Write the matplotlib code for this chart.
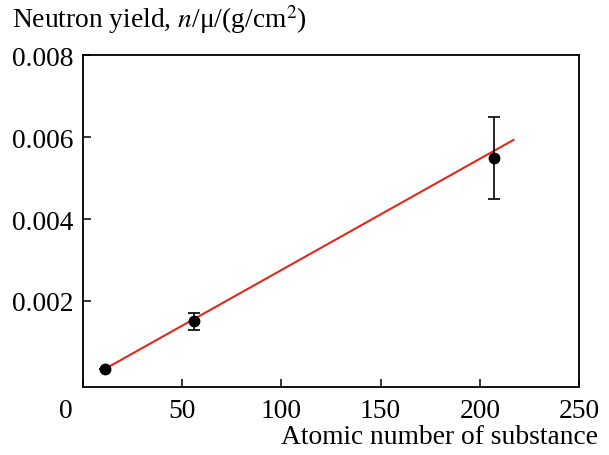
import matplotlib
matplotlib.use("Agg")
import matplotlib.pyplot as plt
import matplotlib.transforms as mtransforms

# measured points (mass/atomic number vs neutron yield)
z_values = [11, 56, 207]
yield_values = [0.00034, 0.0015, 0.0055]
yield_err = [0.0, 0.0002, 0.001]

# linear fit drawn as a red line
fit_x = [11, 217]
fit_y = [0.00034, 0.00593]

x_ticks = [0, 50, 100, 150, 200, 250]
y_ticks = [0.002, 0.004, 0.006, 0.008]

plt.rcParams['font.family'] = ['Liberation Serif', 'DejaVu Serif']
plt.rcParams['mathtext.fontset'] = 'stix'
plt.rcParams['font.size'] = 19.8

fig = plt.figure(figsize=(6.09, 4.56), dpi=100)
ax = fig.add_axes([0.1363, 0.149, 0.8144, 0.728])

ax.plot(fit_x, fit_y, color='#e0291c', lw=1.5, zorder=2)
ax.errorbar(z_values, yield_values, yerr=yield_err, fmt='o', color='black',
            ms=7.5, ecolor='black', elinewidth=1.2, capsize=4, capthick=1.2,
            zorder=3)

ax.set_xlim(0, 250)
ax.set_ylim(-0.0001, 0.008)
ax.set_xticks(x_ticks)
ax.set_yticks(y_ticks)
ax.set_xticklabels([str(t) for t in x_ticks])
ax.set_yticklabels([f"{t:.3f}" for t in y_ticks])

ax.tick_params(direction='in', length=6, width=1.1, top=False, right=False)
ax.tick_params(axis='x', pad=8)
ax.tick_params(axis='y', pad=7)
for sp in ax.spines.values():
    sp.set_linewidth(1.3)

# the "0" label sits a bit left of the axis origin in the original
offset = mtransforms.ScaledTranslation(-17 / 100, 0, fig.dpi_scale_trans)
lbl0 = ax.get_xticklabels()[0]
lbl0.set_transform(lbl0.get_transform() + offset)

fig.text(12 / 609, 1 - 20 / 456, r"Neutron yield, $n$/μ/(g/cm$^2$)",
         ha='left', va='center')
fig.text(598 / 609, 1 - 438 / 456, "Atomic number of substance",
         ha='right', va='center')

fig.savefig("out.png", dpi=100)
